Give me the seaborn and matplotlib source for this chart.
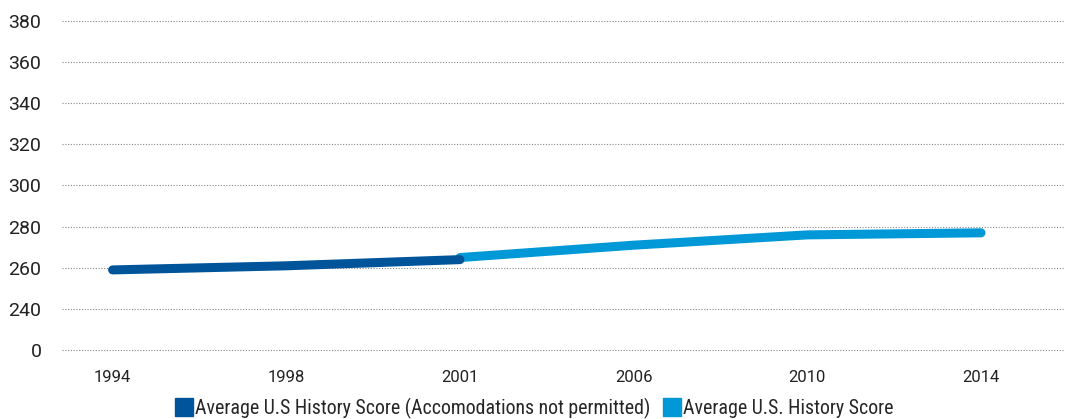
import matplotlib
matplotlib.use("Agg")
import matplotlib.pyplot as plt
from matplotlib.lines import Line2D
import seaborn as sns
import pandas as pd

# DATA
years_old = ['1994', '1998', '2001']
score_old = [259, 261, 264]
years_new = ['2001', '2006', '2010', '2014']
score_new = [265, 271, 276, 277]
label_old = 'Average U.S History Score (Accomodations not permitted)'
label_new = 'Average U.S. History Score'
y_ticks = [220, 240, 260, 280, 300, 320, 340, 360, 380]
y_labels = ['0', '240', '260', '280', '300', '320', '340', '360', '380']

df = pd.DataFrame({
    'Year': years_old + years_new,
    'Score': score_old + score_new,
    'Series': [label_old] * len(years_old) + [label_new] * len(years_new),
})

dark = '#00559a'
light = '#0098d6'

sns.set_style('white')
plt.rcParams['font.family'] = ['Roboto', 'DejaVu Sans']

fig = plt.figure(figsize=(10.73, 4.19), dpi=100)
ax = fig.add_axes([0.058, 0.160, 0.934, 0.795])

# light series first so the dark end cap sits on top at 2001
sns.lineplot(data=df, x='Year', y='Score', hue='Series',
             hue_order=[label_new, label_old],
             palette={label_old: dark, label_new: light},
             linewidth=6.5, solid_capstyle='round', legend=False, ax=ax)

ax.set_ylim(219.2, 380.8)
ax.set_yticks(y_ticks)
ax.set_yticklabels(y_labels, fontsize=14, color='#222222')
ax.set_xlim(-0.29, 5.48)
ax.tick_params(axis='x', labelsize=12, colors='#222222', pad=13, length=0)
ax.tick_params(axis='y', pad=15, length=0)
ax.set_xlabel('')
ax.set_ylabel('')
ax.yaxis.grid(True, linestyle=(0, (1, 1.5)), color='#888888', linewidth=0.8)
ax.set_axisbelow(True)
sns.despine(ax=ax, left=True, bottom=True)

handles = [Line2D([], [], marker='s', linestyle='', color=dark, markersize=13),
           Line2D([], [], marker='s', linestyle='', color=light, markersize=13)]
fig.legend(handles, [label_old, label_new], loc='center', ncol=2,
           bbox_to_anchor=(0.497, 0.025), frameon=False,
           handletextpad=0.0, columnspacing=0.5, handlelength=1.1,
           prop={'family': ['Liberation Sans Narrow', 'Roboto Condensed', 'DejaVu Sans'], 'size': 14.3})

fig.savefig('out.png', dpi=100)
